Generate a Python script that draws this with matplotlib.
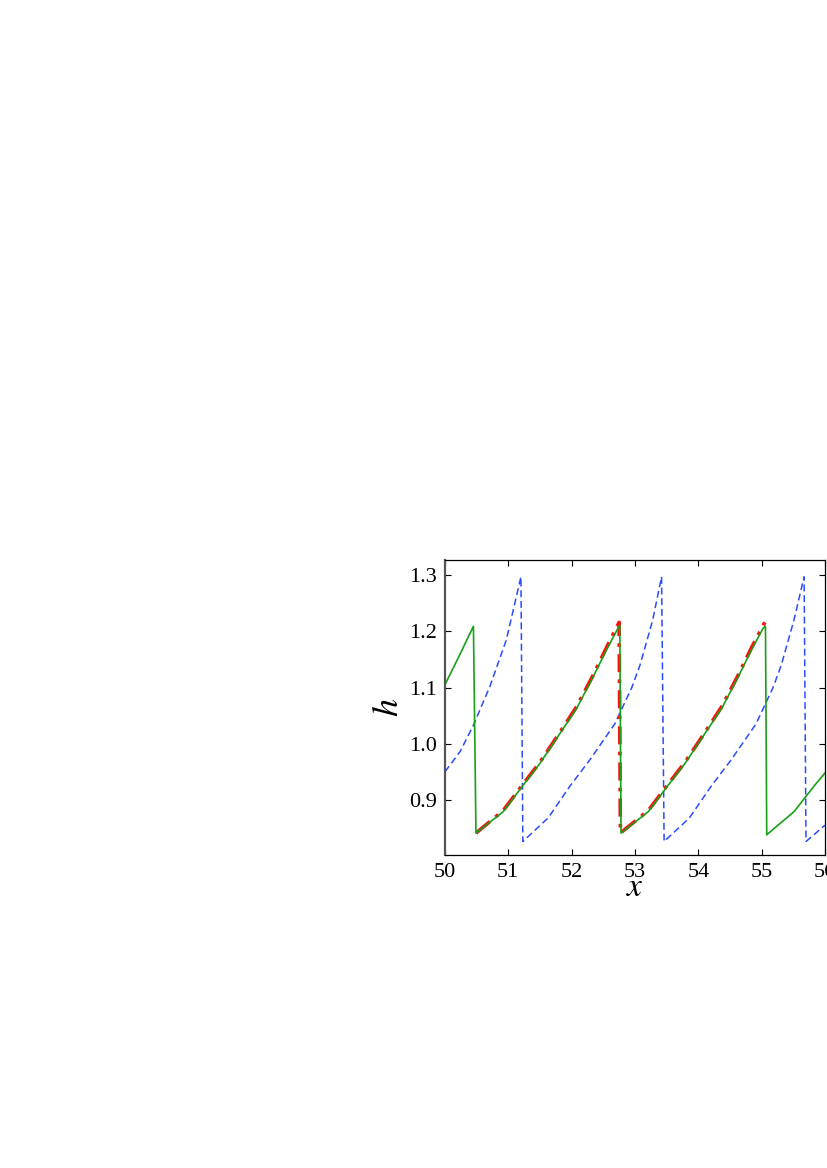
import matplotlib
matplotlib.use("Agg")
import matplotlib.pyplot as plt

# green solid curve
green_x = [50.0, 50.22, 50.45, 50.49, 50.92, 51.24, 51.50, 51.82, 52.08, 52.34, 52.55, 52.73, 52.76,
           52.78, 53.21, 53.53, 53.79, 54.11, 54.37, 54.63, 54.84, 55.02, 55.06,
           55.08, 55.51, 55.83, 56.0]
green_h = [1.105, 1.155, 1.209, 0.841, 0.879, 0.927, 0.965, 1.019, 1.063, 1.119, 1.167, 1.205, 1.211,
           0.841, 0.879, 0.927, 0.965, 1.019, 1.063, 1.119, 1.167, 1.205, 1.209,
           0.838, 0.879, 0.925, 0.948]

# blue dashed curve
blue_x = [50.0, 50.24, 50.45, 50.71, 50.97, 51.20,
          51.23, 51.63, 51.97, 52.28, 52.68, 52.95, 53.08, 53.28, 53.42,
          53.46, 53.86, 54.20, 54.51, 54.91, 55.18, 55.31, 55.51, 55.67,
          55.70, 56.0]
blue_h = [0.950, 0.986, 1.033, 1.102, 1.185, 1.297,
          0.826, 0.868, 0.924, 0.970, 1.035, 1.100, 1.140, 1.220, 1.297,
          0.826, 0.868, 0.924, 0.970, 1.035, 1.100, 1.140, 1.220, 1.297,
          0.826, 0.855]

# red dash-dot curve
red_x = [50.49, 50.92, 51.24, 51.50, 51.82, 52.08, 52.34, 52.55, 52.75, 52.77,
         53.21, 53.53, 53.79, 54.11, 54.37, 54.63, 54.84, 55.05]
red_h = [0.841, 0.881, 0.929, 0.967, 1.021, 1.066, 1.122, 1.171, 1.216, 0.841,
         0.881, 0.929, 0.967, 1.021, 1.066, 1.122, 1.171, 1.216]

xticks = [50, 51, 52, 53, 54, 55, 56]
yticks = [0.9, 1.0, 1.1, 1.2, 1.3]

plt.rcParams["font.family"] = ["Liberation Serif", "DejaVu Serif"]
plt.rcParams["mathtext.fontset"] = "stix"

fig = plt.figure(figsize=(8.27, 11.68), dpi=100)
ax = fig.add_axes([0.538, 0.268, 0.4596, 0.2526])

ax.plot(blue_x, blue_h, color="#2a4cff", linestyle=(0, (4.5, 2.5)), linewidth=1.1)
ax.plot(red_x, red_h, color="#ff1010", linestyle=(0, (5, 2, 1, 2)), linewidth=2.6)
ax.plot(green_x, green_h, color="#18a018", linewidth=1.2)

ax.set_xlim(50, 56)
ax.set_ylim(0.802, 1.327)
ax.set_xticks(xticks)
ax.set_yticks(yticks)
ax.set_yticklabels([f"{v:.1f}" for v in yticks])
ax.tick_params(direction="in", top=True, right=True, labelsize=16, length=4, pad=6)
for s in ax.spines.values():
    s.set_linewidth(0.9)
ax.spines["left"].set_color("#555555")
ax.spines["left"].set_linewidth(1.6)

ax.set_xlabel("$x$", fontsize=24, labelpad=-7)
ax.set_ylabel("$h$", fontsize=26, labelpad=2)

fig.savefig("out.png", dpi=100)
